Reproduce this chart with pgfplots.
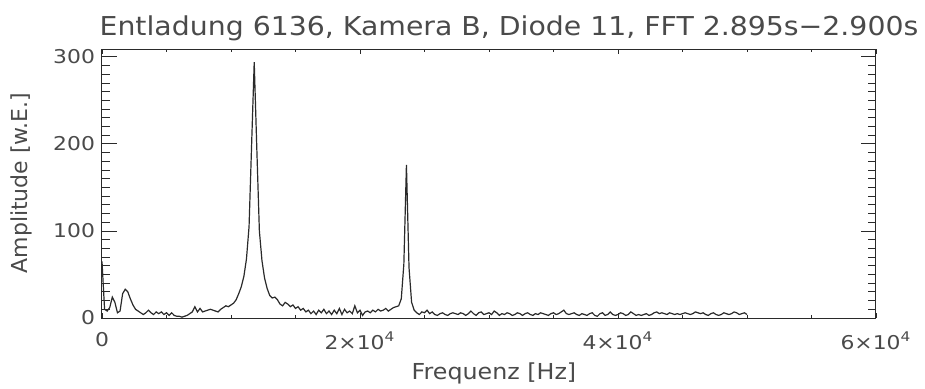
\documentclass[border=0pt]{standalone}
\usepackage{pgfplots}
\pgfplotsset{compat=1.18}
\usepackage{pgfplotstable}
\usepackage{fontspec}
\usepackage{graphicx}
\setmainfont{DejaVu Sans}
\definecolor{txt}{HTML}{4A4A4A}
\definecolor{ln}{HTML}{2A2A2A}
\newcommand{\wlab}[1]{\scalebox{1.15}[1]{#1}}
\pgfplotstableread{
f a
0 65
200 10
400 8
600 12
800 24
1000 18
1200 6
1400 8
1600 28
1800 33
2000 30
2200 22
2400 15
2600 10
2800 8
3000 6
3200 4
3400 6
3600 9
3800 6
4000 4
4200 7
4400 5
4600 7
4800 4
5000 6
5200 3
5400 6
5600 3
5800 2
6000 2
6200 1
6400 2
6600 3
6800 5
7000 7
7200 13
7400 7
7600 11
7800 7
8000 8
8200 9
8400 10
8600 9
8800 8
9000 7
9200 10
9400 12
9600 14
9800 13
10000 15
10200 17
10400 21
10600 28
10800 36
11000 48
11200 68
11400 105
11600 200
11800 294
12000 195
12200 100
12400 66
12600 46
12800 34
13000 26
13200 23
13400 24
13600 21
13800 16
14000 14
14200 18
14400 16
14600 13
14800 15
15000 11
15200 13
15400 9
15600 11
15800 7
16000 9
16200 5
16400 8
16600 4
16800 9
17000 6
17200 10
17400 5
17600 8
17800 4
18000 9
18200 5
18400 11
18600 4
18800 10
19000 6
19200 8
19400 5
19600 14
19800 6
20000 9
20200 3
20400 7
20600 8
20800 6
21000 9
21200 7
21400 10
21600 8
21800 9
22000 11
22200 8
22400 10
22600 12
22800 13
23000 14
23200 22
23400 62
23600 176
23800 58
24000 18
24200 9
24400 6
24600 4
24800 7
25000 6
25200 9
25400 5
25600 7
25800 4
26000 3
26200 5
26400 6
26600 4
26800 3
27000 5
27200 6
27400 5
27600 4
27800 6
28000 5
28200 3
28400 5
28600 8
28800 5
29000 3
29200 6
29400 7
29600 4
29800 5
30000 6
30200 4
30400 8
30600 6
30800 3
31000 5
31200 4
31400 6
31600 5
31800 3
32000 4
32200 6
32400 5
32600 3
32800 5
33000 6
33200 4
33400 3
33600 5
33800 4
34000 6
34200 5
34400 4
34600 3
34800 5
35000 6
35200 4
35400 5
35600 7
35800 9
36000 5
36200 4
36400 5
36600 6
36800 4
37000 3
37200 5
37400 4
37600 3
37800 5
38000 6
38200 3
38400 2
38600 5
38800 6
39000 3
39200 4
39400 7
39600 4
39800 3
40000 4
40200 6
40400 5
40600 3
40800 4
41000 7
41200 5
41400 3
41600 4
41800 3
42000 4
42200 5
42400 3
42600 4
42800 6
43000 7
43200 5
43400 6
43600 5
43800 4
44000 6
44200 5
44400 4
44600 5
44800 4
45000 5
45200 6
45400 5
45600 4
45800 5
46000 7
46200 6
46400 5
46600 6
46800 4
47000 3
47200 5
47400 6
47600 4
47800 3
48000 4
48200 6
48400 5
48600 4
48800 5
49000 7
49200 6
49400 4
49600 5
49800 6
50000 4
}\fft
\begin{document}
\begin{tikzpicture}
\useasboundingbox (-51pt,-35pt) rectangle (411.5pt,159pt);
\begin{axis}[
  at={(0pt,0pt)}, anchor=south west,
  scale only axis, width=387pt, height=134.5pt,
  xmin=0, xmax=60000, ymin=0, ymax=309,
  axis line style={ln, line width=0.5pt},
  xtick={0,20000,40000,60000},
  xticklabels={\wlab{0},\wlab{2×10\textsuperscript{4}},\wlab{4×10\textsuperscript{4}},\wlab{6×10\textsuperscript{4}}},
  minor x tick num=3,
  ytick={0,100,200,300},
  yticklabels={\wlab{0},\wlab{100},\wlab{200},\wlab{300}},
  minor y tick num=9,
  tick align=inside,
  xtick pos=both, ytick pos=both,
  xtick style={ln, line width=0.4pt, /pgfplots/major tick length=2.7pt, /pgfplots/minor tick length=1.4pt},
  ytick style={ln, line width=0.4pt, /pgfplots/major tick length=7.5pt, /pgfplots/minor tick length=3.8pt},
  scaled x ticks=false,
  ticklabel style={font=\fontsize{9.5}{11}\selectfont, text=txt},
  xticklabel style={yshift=-3.5pt},
  clip=true,
]
\addplot[ln, line width=0.6pt] table[x=f, y=a] {\fft};
\end{axis}
\node[anchor=base, text=txt, font=\fontsize{13}{15}\selectfont] at (203.5pt,141.5pt) {\scalebox{1.09}[1]{Entladung 6136, Kamera B, Diode 11, FFT 2.895s−2.900s}};
\node[anchor=base, text=txt, font=\fontsize{11}{13}\selectfont] at (196pt,-30.5pt) {\scalebox{1.08}[1]{Frequenz [Hz]}};
\node[anchor=base, rotate=90, text=txt, font=\fontsize{11}{13}\selectfont] at (-37pt,67.5pt) {Amplitude [w.E.]};
\end{tikzpicture}
\end{document}
